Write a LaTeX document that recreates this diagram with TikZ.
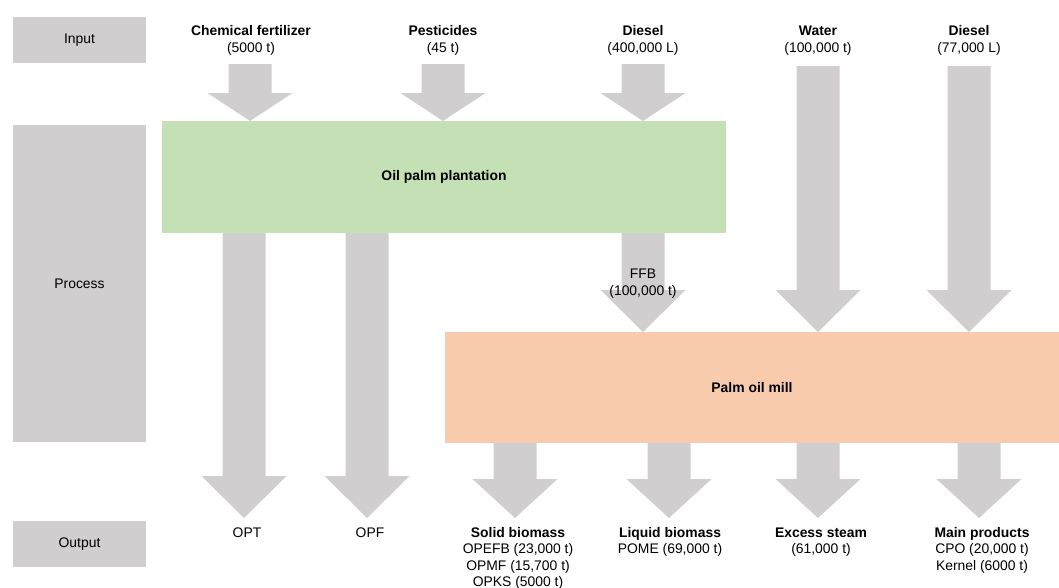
\documentclass[tikz,border=0pt]{standalone}
\usepackage{fontspec}
\setmainfont{Liberation Sans}
\usetikzlibrary{positioning}
\definecolor{flowgray}{RGB}{208,206,206}
\definecolor{plantgreen}{RGB}{197,224,180}
\definecolor{millorange}{RGB}{248,203,173}
\tikzstyle{stage} = [rectangle, fill=flowgray, inner sep=0pt,
                 minimum width=133]
\tikzstyle{unit} = [rectangle, inner sep=0pt]
\tikzset{
	flowlabel/.style={anchor=base, align=center, inner sep=0pt},
	outlabel/.style={flowlabel, font=\fontsize{13.9}{16.5}\selectfont},
}
% block arrow: centre x, top y, head y, tip y
\newcommand{\flowarrow}[4]{%
	\fill [flowgray] (#1-21.5,#2) -- (#1+21.5,#2) -- (#1+21.5,#3)
		-- (#1+42.5,#3) -- (#1,#4) -- (#1-42.5,#3) -- (#1-21.5,#3) -- cycle;}

\begin{document}
\begin{tikzpicture}[x=1pt, y=-1pt, font=\fontsize{13.9}{17}\selectfont]
\useasboundingbox (0,0) rectangle (1059,587);

\node [stage, minimum height=46] at (79.5,40) (input) {Input};
\node [stage, minimum height=317] at (79.5,283.5) (process) {Process};
\node [stage, minimum height=46] at (79.5,544) (output) {Output};

\node [unit, fill=plantgreen, minimum width=564, minimum height=112]
	at (444,177) (plantation) {\bfseries Oil palm plantation};
\node [unit, fill=millorange, minimum width=614, minimum height=111]
	at (752,387.5) (mill) {\bfseries Palm oil mill};

	%inputs
\foreach \x in {250, 443, 643}
	\flowarrow{\x}{64}{93}{121};
\foreach \x in {818, 969}
	\flowarrow{\x}{66}{290}{332};
\flowarrow{643}{233}{290}{332};
	%outputs
\foreach \x in {244, 367}
	\flowarrow{\x}{233}{476}{518};
\foreach \x in {515, 669, 818, 979}
	\flowarrow{\x}{443}{479}{518};

% labels sit on the baseline of their last line
\foreach \x/\name/\amount [count=\i] in {251/Chemical fertilizer/5000 t,
		443/Pesticides/45 t, 643/Diesel/{400,000 L},
		818/Water/{100,000 t}, 969/Diesel/{77,000 L}}
	\node [flowlabel] at (\x,52) (src\i) {\textbf{\name}\\(\amount)};

\node [flowlabel] at (643,295) (ffb) {FFB\\(100,000 t)};

\foreach \x/\y/\body [count=\i] in {247/537/OPT, 370/537/OPF,
		518/586.5/{\textbf{Solid biomass}\\OPEFB (23,000 t)\\OPMF (15,700 t)\\OPKS (5000 t)},
		670/553.5/{\textbf{Liquid biomass}\\POME (69,000 t)},
		821/553.5/{\textbf{Excess steam}\\(61,000 t)},
		982/570/{\textbf{Main products}\\CPO (20,000 t)\\Kernel (6000 t)}}
	\node [outlabel] at (\x,\y) (out\i) {\body};

\end{tikzpicture}
\end{document}
